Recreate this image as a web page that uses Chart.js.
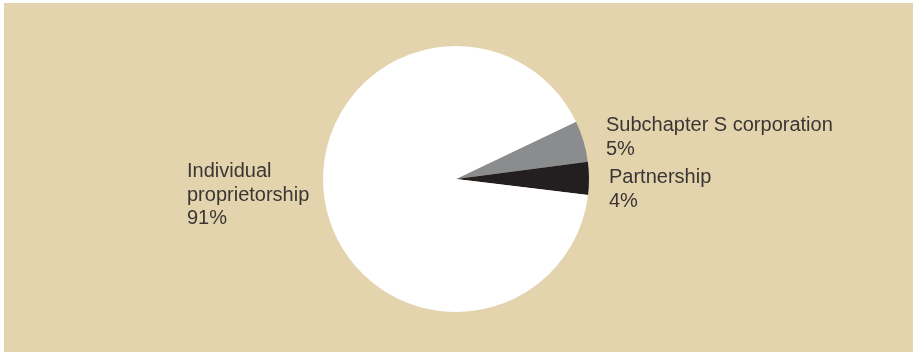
<!DOCTYPE html>
<html>
<head>
<meta charset="utf-8">
<script src="https://cdn.jsdelivr.net/npm/chart.js@4.4.1/dist/chart.umd.min.js"></script>
<style>
    html, body { margin: 0; padding: 0; background: #ffffff; }
    #panel {
        position: absolute;
        left: 4px;
        top: 3px;
        width: 909px;
        height: 349px;
        background: #e3d4ae;
    }
    #wrap {
        position: absolute;
        left: 0;
        top: 0;
        width: 913px;
        height: 352px;
    }
</style>
</head>
<body>
<div id="panel"></div>
<div id="wrap"><canvas id="ownershipChart"></canvas></div>
<script>
// business ownership shares (%)
const categories = ['Subchapter S corporation', 'Partnership', 'Individual proprietorship'];
const labelLines = [['Subchapter S corporation'], ['Partnership'], ['Individual', 'proprietorship']];
const shares = [5, 4, 91];
const sliceColors = ['#8b8c8e', '#231f20', '#ffffff'];

// where each label sits, relative to the pie centre / edge
const labelPlacement = [
    { side: 'right', gap: 17, dy: -48 },
    { side: 'right', gap: 20, dy: 4 },
    { side: 'left', gap: 136, dy: -2 }
];

const sliceLabels = {
    id: 'sliceLabels',
    afterDraw(chart) {
        const ctx = chart.ctx;
        const meta = chart.getDatasetMeta(0);
        const lineHeight = 23.5;

        ctx.save();
        ctx.font = '20px "Liberation Sans", Arial, sans-serif';
        ctx.fillStyle = '#3b3633';
        ctx.textAlign = 'left';
        ctx.textBaseline = 'alphabetic';

        meta.data.forEach((arc, i) => {
            const place = labelPlacement[i];
            const x = place.side === 'right'
                ? arc.x + arc.outerRadius + place.gap
                : arc.x - arc.outerRadius - place.gap;
            let y = arc.y + place.dy;
            const lines = labelLines[i].concat([shares[i] + '%']);
            lines.forEach(line => {
                ctx.fillText(line, x, y);
                y += lineHeight;
            });
        });
        ctx.restore();
    }
};

const chartPage = {
    chart: null,

    init() {
        const ctx = document.getElementById('ownershipChart').getContext('2d');
        this.chart = new Chart(ctx, {
            type: 'pie',
            data: {
                labels: categories,
                datasets: [{
                    data: shares,
                    backgroundColor: sliceColors,
                    borderWidth: 0
                }]
            },
            options: {
                responsive: true,
                maintainAspectRatio: false,
                animation: false,
                rotation: 64.5,
                layout: {
                    padding: { top: 46, bottom: 40, left: 0, right: 1 }
                },
                plugins: {
                    legend: { display: false },
                    tooltip: { enabled: false }
                }
            },
            plugins: [sliceLabels]
        });
    }
};

chartPage.init();
</script>
</body>
</html>
